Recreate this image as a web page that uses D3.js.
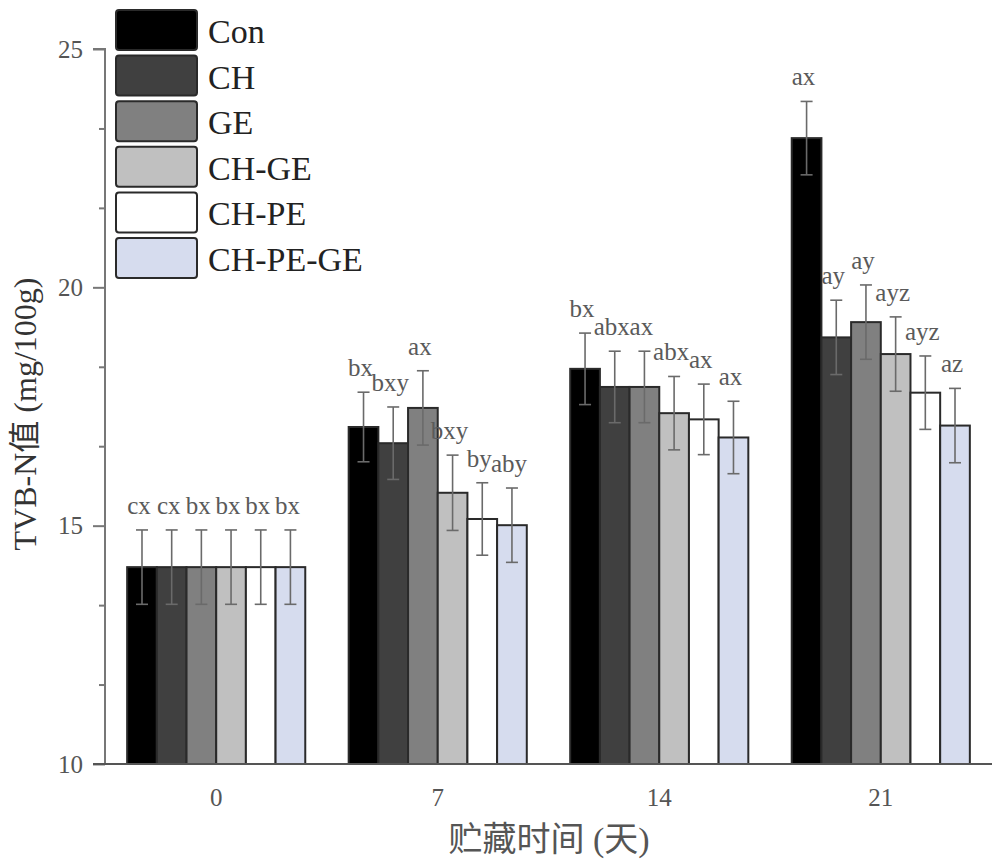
<!DOCTYPE html>
<html>
<head>
<meta charset="utf-8">
<script src="https://cdn.jsdelivr.net/npm/d3@7/dist/d3.min.js"></script>
<style>
  html, body { margin: 0; padding: 0; background: #fff; }
  svg { display: block; }
</style>
</head>
<body>
<svg id="chart" width="1000" height="868"></svg>
<script>
const days = ["0", "7", "14", "21"];
const groups = ["Con", "CH", "GE", "CH-GE", "CH-PE", "CH-PE-GE"];
const fills = ["#000000", "#404040", "#808080", "#c0c0c0", "#ffffff", "#d6dcee"];
const means = {
  "Con":      [14.13, 17.07, 18.29, 23.13],
  "CH":       [14.13, 16.73, 17.91, 18.95],
  "GE":       [14.13, 17.47, 17.91, 19.27],
  "CH-GE":    [14.13, 15.69, 17.36, 18.60],
  "CH-PE":    [14.13, 15.14, 17.23, 17.79],
  "CH-PE-GE": [14.13, 15.01, 16.85, 17.10]
};
const errs = {
  "Con":      [0.78, 0.73, 0.75, 0.77],
  "CH":       [0.78, 0.76, 0.75, 0.78],
  "GE":       [0.78, 0.78, 0.75, 0.78],
  "CH-GE":    [0.78, 0.79, 0.77, 0.78],
  "CH-PE":    [0.78, 0.76, 0.74, 0.77],
  "CH-PE-GE": [0.78, 0.78, 0.76, 0.78]
};
const letters = {
  "Con":      ["cx", "bx", "bx", "ax"],
  "CH":       ["cx", "bxy", "abx", "ay"],
  "GE":       ["bx", "ax", "ax", "ay"],
  "CH-GE":    ["bx", "bxy", "abx", "ayz"],
  "CH-PE":    ["bx", "by", "ax", "ayz"],
  "CH-PE-GE": ["bx", "aby", "ax", "az"]
};
const yTicks = [10, 15, 20, 25];
const yMinorTicks = [11.667, 13.333, 16.667, 18.333, 21.667, 23.333];

const serif = "'Liberation Serif', 'Times New Roman', 'Noto Sans CJK SC', serif";
const svg = d3.select("#chart");

const x0 = d3.scaleBand().domain(days).range([105, 992]).paddingInner(0.196).paddingOuter(0.1);
const x1 = d3.scaleBand().domain(groups).range([0, x0.bandwidth()]);
const y = d3.scaleLinear().domain([10, 25]).range([764, 49]);
const color = d3.scaleOrdinal().domain(groups).range(fills);

const data = [];
days.forEach((d, i) => groups.forEach(g => data.push({day: d, g, v: means[g][i], e: errs[g][i], l: letters[g][i]})));

// bars
svg.append("g").selectAll("rect").data(data).join("rect")
  .attr("x", d => x0(d.day) + x1(d.g))
  .attr("y", d => y(d.v))
  .attr("width", x1.bandwidth())
  .attr("height", d => y(10) - y(d.v))
  .attr("fill", d => color(d.g))
  .attr("stroke", "#2a2a2a")
  .attr("stroke-width", 2);

// error bars
const eb = svg.append("g").attr("stroke", "#6a6a6a").attr("stroke-width", 1.6).attr("fill", "none");
data.forEach(d => {
  const cx = x0(d.day) + x1(d.g) + x1.bandwidth() / 2;
  const t = y(d.v + d.e), b = y(d.v - d.e);
  eb.append("line").attr("x1", cx).attr("x2", cx).attr("y1", t).attr("y2", b);
  eb.append("line").attr("x1", cx - 6).attr("x2", cx + 6).attr("y1", t).attr("y2", t);
  eb.append("line").attr("x1", cx - 6).attr("x2", cx + 6).attr("y1", b).attr("y2", b);
});

// letters
svg.append("g").selectAll("text").data(data).join("text")
  .attr("x", d => x0(d.day) + x1(d.g) + x1.bandwidth() / 2 - 3)
  .attr("y", d => y(d.v + d.e) - 16)
  .attr("text-anchor", "middle")
  .attr("font-family", serif)
  .attr("font-size", 25)
  .attr("fill", "#5a5a5a")
  .text(d => d.l);

// y axis
const yAxis = svg.append("g").attr("transform", "translate(105,0)")
  .call(d3.axisLeft(y).tickValues(yTicks).tickSize(12).tickPadding(10).tickFormat(d3.format("d")));
yAxis.select(".domain").attr("stroke", "#777").attr("stroke-width", 2).attr("d", `M-12,${y(25)}H0V${y(10)}`);
yAxis.selectAll(".tick line").attr("stroke", "#777").attr("stroke-width", 2);
yAxis.selectAll(".tick text").attr("font-family", serif).attr("font-size", 25).attr("fill", "#555").attr("dy", "0.32em");
const yMinor = svg.append("g").attr("transform", "translate(105,0)")
  .call(d3.axisLeft(y).tickValues(yMinorTicks).tickSize(6).tickFormat(""));
yMinor.select(".domain").remove();
yMinor.selectAll(".tick line").attr("stroke", "#777").attr("stroke-width", 2);

// x axis
const xAxis = svg.append("g").attr("transform", `translate(0,${y(10)})`)
  .call(d3.axisBottom(x0).tickSize(0).tickPadding(24));
xAxis.select(".domain").attr("stroke", "#555").attr("stroke-width", 2).attr("d", "M93,0H992");
xAxis.selectAll(".tick text").attr("font-family", serif).attr("font-size", 25).attr("fill", "#555");

// axis titles
svg.append("text")
  .attr("transform", "translate(36,414) rotate(-90)")
  .attr("text-anchor", "middle")
  .attr("font-family", serif)
  .attr("font-size", 32)
  .attr("fill", "#333")
  .text("TVB-N值 (mg/100g)");
svg.append("text")
  .attr("x", 549).attr("y", 851)
  .attr("text-anchor", "middle")
  .attr("font-family", serif)
  .attr("font-size", 34)
  .attr("fill", "#555")
  .text("贮藏时间 (天)");

// legend
const leg = svg.append("g").attr("transform", "translate(116,10)");
const rows = leg.selectAll("g").data(groups).join("g")
  .attr("transform", (d, i) => `translate(0,${i * 45.6})`);
rows.append("rect")
  .attr("width", 81).attr("height", 40).attr("rx", 3)
  .attr("fill", d => color(d)).attr("stroke", "#2a2a2a").attr("stroke-width", 2);
rows.append("text")
  .attr("x", 92).attr("y", 33)
  .attr("font-family", serif).attr("font-size", 34).attr("fill", "#222")
  .text(d => d);
</script>
</body>
</html>
